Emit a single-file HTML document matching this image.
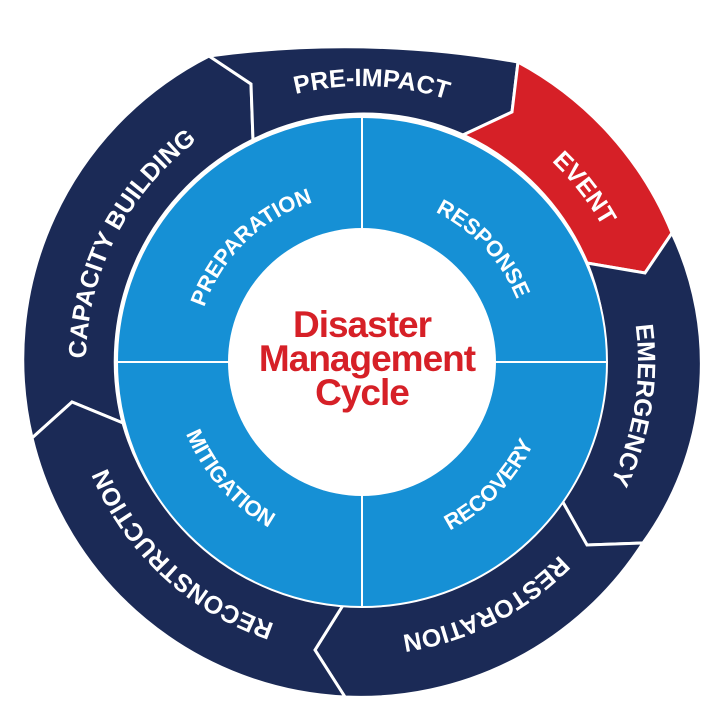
<!DOCTYPE html>
<html><head><meta charset="utf-8"><style>
html,body{margin:0;padding:0;background:#fff;width:720px;height:720px;overflow:hidden}
svg{display:block}
.d{font-family:"Liberation Sans",Arial,sans-serif;font-weight:bold;font-size:25px;fill:#fff}
.b{font-family:"Liberation Sans",Arial,sans-serif;font-weight:bold;font-size:22px;fill:#fff}
.c{font-family:"Liberation Sans",Arial,sans-serif;font-weight:bold;font-size:37px;fill:#d62027;letter-spacing:-1px}
</style></head><body>
<svg width="720" height="720" viewBox="0 0 720 720" xmlns="http://www.w3.org/2000/svg">
<defs>
<path id="cw270" d="M0 276 A276 276 0 0 1 0 -276 A276 276 0 0 1 0 276"/>
<path id="cw165" d="M0 167 A167 167 0 0 1 0 -167 A167 167 0 0 1 0 167"/>
<path id="ccw188" d="M0 -190 A190 190 0 0 0 0 190 A190 190 0 0 0 0 -190"/>
</defs>
<g fill="#1b2a56" stroke="#fff" stroke-width="3" stroke-linejoin="miter">
<path d="M32,438 A340 340 0 0 1 209,56 L251,84 L253,140 A247 247 0 0 0 123,423 L72,402 Z"/>
<path d="M209,56 A1000 1000 0 0 1 518,62 L512,112 L463,135 A247 247 0 0 0 253,140 L251,84 Z"/>
<path fill="#d62027" d="M518,62 A340 340 0 0 1 672,233 L645,273 L587,263 A247 247 0 0 0 463,135 L512,112 Z"/>
<path d="M672,233 A305 305 0 0 1 643,543 L587,545 L560,497 A247 247 0 0 0 587,263 L645,273 Z"/>
<path d="M643,543 A335 335 0 0 1 345,697 L315,650 L345,602 A247 247 0 0 0 560,497 L587,545 Z"/>
<path d="M345,697 A338 338 0 0 1 32,438 L72,402 L123,423 A247 247 0 0 0 345,602 L315,650 Z"/>
</g>
<circle cx="362" cy="362" r="245" fill="#1690d5" stroke="#fff" stroke-width="2"/>
<line x1="362" y1="117" x2="362" y2="607" stroke="#fff" stroke-width="2"/>
<line x1="117" y1="362" x2="607" y2="362" stroke="#fff" stroke-width="2"/>
<circle cx="362" cy="362" r="134" fill="#fff"/>

<g transform="translate(362,362)">
<g transform="rotate(2)"><text class="d"><textPath href="#cw270" startOffset="50%" text-anchor="middle">PRE-IMPACT</textPath></text></g>
<g transform="rotate(52)"><text class="d"><textPath href="#cw270" startOffset="50%" text-anchor="middle">EVENT</textPath></text></g>
<g transform="rotate(99)"><text class="d"><textPath href="#cw270" startOffset="50%" text-anchor="middle">EMERGENCY</textPath></text></g>
<g transform="rotate(153)"><text class="d"><textPath href="#cw270" startOffset="50%" text-anchor="middle">RESTORATION</textPath></text></g>
<g transform="rotate(223)"><text class="d"><textPath href="#cw270" startOffset="50%" text-anchor="middle">RECONSTRUCTION</textPath></text></g>
<g transform="rotate(297)"><text class="d"><textPath href="#cw270" startOffset="50%" text-anchor="middle">CAPACITY BUILDING</textPath></text></g>

<g transform="rotate(316)"><text class="b"><textPath href="#cw165" startOffset="50%" text-anchor="middle">PREPARATION</textPath></text></g>
<g transform="rotate(47)"><text class="b"><textPath href="#cw165" startOffset="50%" text-anchor="middle">RESPONSE</textPath></text></g>
<g transform="rotate(48.6)"><text class="b"><textPath href="#ccw188" startOffset="50%" text-anchor="middle">MITIGATION</textPath></text></g>
<g transform="rotate(-46)"><text class="b"><textPath href="#ccw188" startOffset="50%" text-anchor="middle">RECOVERY</textPath></text></g>
</g>

<text class="c" x="362" y="337" text-anchor="middle">Disaster</text>
<text class="c" x="367" y="371" text-anchor="middle">Management</text>
<text class="c" x="362" y="405" text-anchor="middle">Cycle</text>
</svg>
</body></html>
